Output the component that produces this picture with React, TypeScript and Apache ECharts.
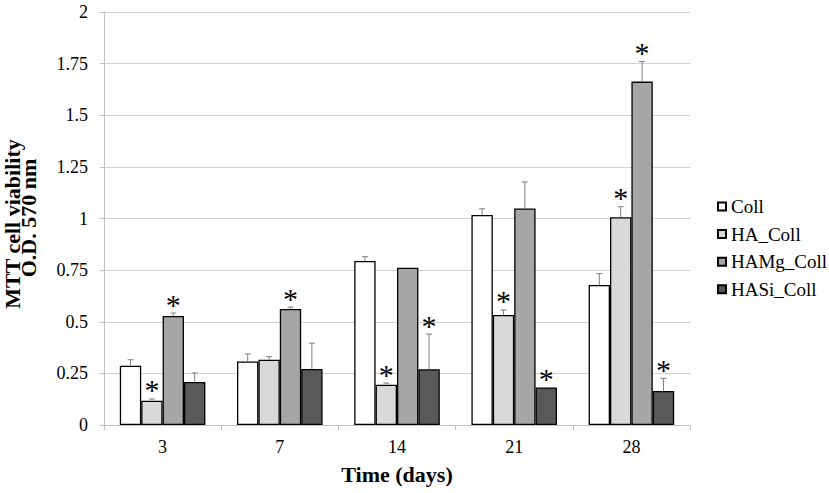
import React, { useEffect, useRef } from "react";
import * as echarts from "echarts";

const categories = ["3", "7", "14", "21", "28"];
const seriesNames = ["Coll", "HA_Coll", "HAMg_Coll", "HASi_Coll"];

const collValues = [0.287, 0.308, 0.794, 1.017, 0.678];
const collErrors = [0.029, 0.036, 0.021, 0.03, 0.055];
const collSignificant = [false, false, false, false, false];

const haValues = [0.118, 0.316, 0.195, 0.533, 1.006];
const haErrors = [0.008, 0.015, 0.008, 0.024, 0.051];
const haSignificant = [true, false, true, true, true];

const hamgValues = [0.528, 0.562, 0.762, 1.049, 1.663];
const hamgErrors = [0.014, 0.009, 0, 0.128, 0.097];
const hamgSignificant = [true, true, false, false, true];

const hasiValues = [0.208, 0.271, 0.27, 0.182, 0.165];
const hasiErrors = [0.044, 0.125, 0.17, 0, 0.061];
const hasiSignificant = [false, false, true, true, true];

const yTicks = [0, 0.25, 0.5, 0.75, 1, 1.25, 1.5, 1.75, 2];

const FONT = "Liberation Serif";
const colors = ["#ffffff", "#d9d9d9", "#a6a6a6", "#595959"];
const CAT_GAP = 0.27;

const allValues = [collValues, haValues, hamgValues, hasiValues];
const allErrors = [collErrors, haErrors, hamgErrors, hasiErrors];
const allSig = [collSignificant, haSignificant, hamgSignificant, hasiSignificant];

function errorSeries(idx: number) {
  const values = allValues[idx];
  const errs = allErrors[idx];
  const sig = allSig[idx];
  return {
    type: "custom",
    silent: true,
    z: 5,
    clip: false,
    data: values.map((v, i) => [i, v, errs[i], sig[i] ? 1 : 0]),
    encode: { x: 0, y: 1 },
    renderItem: (params: any, api: any) => {
      const ci = api.value(0);
      const v = api.value(1);
      const e = api.value(2);
      const s = api.value(3);
      const catW = api.size([1, 0])[0];
      const bw = (catW * (1 - CAT_GAP)) / 4;
      const off = (idx - 1.5) * bw;
      const base = api.coord([ci, v]);
      const top = api.coord([ci, v + e]);
      const x = base[0] + off;
      const children: any[] = [];
      if (e > 0) {
        children.push({
          type: "line",
          shape: { x1: x, y1: base[1], x2: x, y2: top[1] },
          style: { stroke: "#7f7f7f", lineWidth: 1 },
        });
        children.push({
          type: "line",
          shape: { x1: x - 3, y1: top[1], x2: x + 3, y2: top[1] },
          style: { stroke: "#7f7f7f", lineWidth: 1 },
        });
      }
      if (s) {
        children.push({
          type: "text",
          x: x,
          y: top[1] - 9,
          style: {
            text: "*",
            fill: "#000000",
            fontSize: 30,
            fontFamily: FONT,
            align: "center",
            verticalAlign: "middle",
          },
        });
      }
      return { type: "group", children };
    },
  };
}

export default function App() {
  const ref = useRef<HTMLDivElement>(null);

  useEffect(() => {
    document.body.style.margin = "0";
    if (!ref.current) return;
    const chart = echarts.init(ref.current, null, { renderer: "svg" });
    const barSeries = seriesNames.map((name, idx) => ({
      name,
      type: "bar",
      data: allValues[idx],
      barGap: "0%",
      barCategoryGap: CAT_GAP * 100 + "%",
      itemStyle: { color: colors[idx], borderColor: "#000", borderWidth: 1.3 },
      z: 2,
    }));
    chart.setOption({
      animation: false,
      backgroundColor: "#ffffff",
      textStyle: { fontFamily: FONT },
      grid: { left: 104, right: 139, top: 12, bottom: 68, containLabel: false, show: false },
      legend: {
        data: seriesNames,
        orient: "vertical",
        left: 712,
        top: 192,
        icon: "rect",
        itemWidth: 8,
        itemHeight: 8,
        itemGap: 8.6,
        textStyle: { fontFamily: FONT, fontSize: 19, color: "#000", lineHeight: 19 },
        selectedMode: false,
      },
      xAxis: {
        type: "category",
        data: categories,
        axisLine: { lineStyle: { color: "#bfbfbf", width: 1 } },
        axisTick: { show: true, alignWithLabel: false, length: 5, lineStyle: { color: "#bfbfbf" } },
        axisLabel: { fontFamily: FONT, fontSize: 18, color: "#000", margin: 13 },
        splitLine: { show: false },
        splitArea: { show: false },
      },
      yAxis: {
        type: "value",
        min: yTicks[0],
        max: yTicks[yTicks.length - 1],
        interval: yTicks[1] - yTicks[0],
        axisLine: { show: true, lineStyle: { color: "#bfbfbf", width: 1 } },
        axisTick: { show: true, length: 4, lineStyle: { color: "#bfbfbf" } },
        axisLabel: { fontFamily: FONT, fontSize: 18, color: "#000", margin: 16 },
        splitLine: { show: true, lineStyle: { color: "#d0d0d0", width: 1 } },
      },
      graphic: [
        {
          type: "text",
          x: 12,
          y: 224,
          rotation: Math.PI / 2,
          style: {
            text: "MTT cell viability",
            fontSize: 22,
            fontWeight: "bold",
            fontFamily: FONT,
            fill: "#000",
            align: "center",
            verticalAlign: "middle",
          },
        },
        {
          type: "text",
          x: 28,
          y: 218,
          rotation: Math.PI / 2,
          style: {
            text: "O.D. 570 nm",
            fontSize: 22,
            fontWeight: "bold",
            fontFamily: FONT,
            fill: "#000",
            align: "center",
            verticalAlign: "middle",
          },
        },
        {
          type: "text",
          x: 397,
          y: 474,
          style: {
            text: "Time (days)",
            fontSize: 22,
            fontWeight: "bold",
            fontFamily: FONT,
            fill: "#000",
            align: "center",
            verticalAlign: "middle",
          },
        },
      ],
      series: [...barSeries, ...[0, 1, 2, 3].map((i) => errorSeries(i))],
    });
    return () => chart.dispose();
  }, []);

  return <div ref={ref} style={{ width: 829, height: 493 }} />;
}
